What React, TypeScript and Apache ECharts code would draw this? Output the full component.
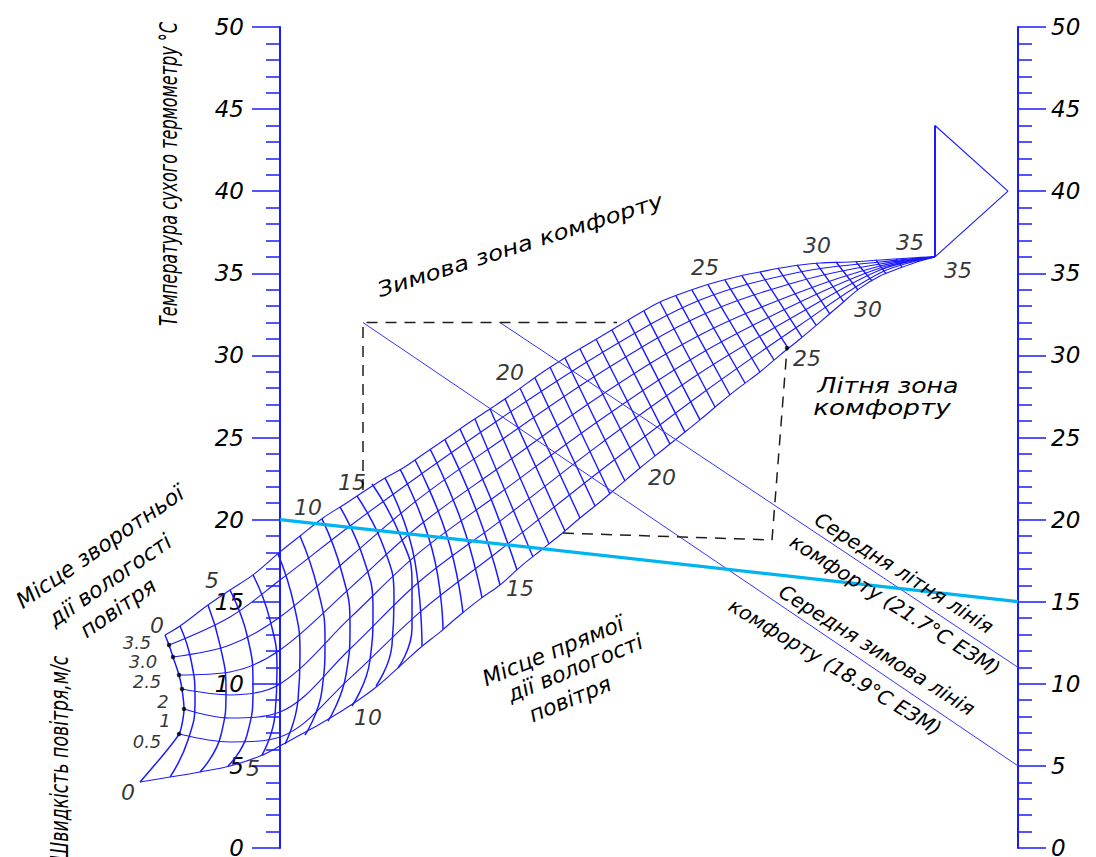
import React, { useEffect, useRef } from 'react';
import * as echarts from 'echarts';

// Horizontal position: drawing units measured from the dry-bulb scale (0) to the wet-bulb scale (738).
// Vertical position: temperature, °C, read against both scales.
const SCALE_SPAN = 738;
const SHEET_LEFT = -280;
const SHEET_RIGHT = 816;
const TEMP_MIN = 0;
const TEMP_MAX = 50;
const TEMP_STEP = 5;

// Air-speed curves of the effective-temperature grid (m/s), upper edge first.
const speedUpper0 = [[-115, 12.97], [-100, 13.52], [-72, 14.8], [-50, 15.71], [-27, 16.63], [0, 18.03], [20, 19.0], [43, 20.1], [65, 20.95], [83, 21.68], [105, 22.53], [123, 23.14], [145, 24.06], [167, 24.97], [190, 25.94], [213, 26.86], [235, 27.77], [260, 28.87], [280, 29.66], [303, 30.51], [320, 31.12], [340, 31.85], [360, 32.58], [380, 33.25], [400, 33.74], [420, 34.17], [440, 34.53], [460, 34.84], [480, 35.08], [500, 35.32], [520, 35.51], [540, 35.63], [570, 35.69], [600, 35.81], [630, 35.93], [655, 36]];
const speed35 = [[-111, 12.36], [-50, 14.07], [0, 16.32], [70, 19.61], [140, 22.72], [220, 26.13], [320, 30.09], [420, 33.37], [520, 35.08], [600, 35.69], [655, 36]];
const speed30 = [[-107, 11.63], [-50, 12.36], [0, 14.07], [70, 17.72], [140, 21.32], [220, 24.79], [320, 28.93], [420, 32.4], [520, 34.53], [600, 35.57], [655, 36]];
const speed25 = [[-101, 10.54], [-50, 10.72], [0, 12.06], [70, 15.83], [140, 19.67], [220, 23.2], [320, 27.53], [420, 31.24], [520, 33.86], [600, 35.44], [655, 36]];
const speed2 = [[-98, 9.68], [-50, 9.32], [0, 9.99], [70, 14.01], [140, 18.03], [220, 21.62], [320, 26.07], [420, 30.09], [520, 33.25], [600, 35.32], [655, 36]];
const speed1 = [[-96, 8.47], [-50, 7.92], [0, 8.28], [70, 12.12], [140, 16.26], [220, 19.91], [320, 24.6], [420, 28.93], [520, 32.58], [600, 35.2], [655, 36]];
const speed05 = [[-101, 6.94], [-50, 6.46], [0, 6.76], [70, 10.35], [140, 14.37], [220, 18.15], [320, 22.96], [420, 27.59], [520, 31.85], [600, 35.02], [655, 36]];
const speedLower0 = [[-140, 4.02], [-110, 4.32], [-80, 4.63], [-50, 4.99], [-20, 5.6], [0, 6.21], [20, 6.88], [40, 7.55], [60, 8.28], [80, 9.07], [100, 9.99], [120, 11.08], [140, 12.18], [160, 13.15], [180, 14.19], [200, 15.16], [220, 16.02], [240, 17.11], [260, 18.09], [280, 19.06], [300, 20.1], [320, 21.07], [340, 22.11], [360, 23.14], [380, 24.12], [400, 25.09], [420, 26.07], [440, 27.1], [460, 28.08], [480, 28.99], [500, 30.02], [520, 31.0], [540, 32.03], [560, 33.07], [580, 34.1], [600, 34.84], [620, 35.32], [640, 35.75], [655, 36]];

// Left edge of the grid, through the start of every speed curve.
const gridLeftEdge = [[-115, 12.97], [-111, 12.36], [-107, 11.63], [-101, 10.54], [-98, 9.68], [-96, 8.47], [-101, 6.94], [-140, 4.02]];
const speedStarts = [[-111, 12.36], [-107, 11.63], [-101, 10.54], [-98, 9.68], [-96, 8.47], [-101, 6.94]];

// Effective-temperature lines crossing the grid (upper edge to lower edge).
const etArcs = [
  [[-100, 13.52], [-89, 11.45], [-85, 9.01], [-92, 6.58], [-110, 4.32]],
  [[-72, 14.8], [-60, 12.36], [-54, 9.62], [-59, 6.88], [-80, 4.63]],
  [[-50, 15.71], [-33, 12.97], [-27, 9.81], [-33, 6.88], [-52, 4.99]],
  [[-27, 16.63], [-10, 13.89], [-3, 10.84], [-5, 8.1], [-18, 5.66]],
  [[-2, 17.9], [14, 14.8], [20, 11.75], [18, 9.01], [5, 6.33]],
  [[20, 19.0], [38, 15.71], [45, 12.67], [42, 9.62], [25, 6.88]],
  [[42, 20.04], [62, 16.75], [70, 13.58], [66, 10.54], [48, 7.73]],
  [[60, 20.77], [84, 17.54], [93, 14.49], [90, 11.45], [72, 8.65]],
  [[77, 21.44], [104, 18.27], [114, 15.23], [112, 12.36], [96, 9.87]],
  [[92, 22.17], [120, 19.06], [132, 16.14], [132, 13.4], [118, 10.96]],
  [[105, 22.53], [135, 17.42], [142, 12.3]],
  [[120, 23.08], [152, 18.21], [163, 13.34]],
  [[135, 23.63], [167, 19.0], [183, 14.31]],
  [[150, 24.3], [182, 19.79], [202, 15.23]],
  [[165, 24.85], [197, 20.46], [220, 16.02]],
  [[180, 25.52], [211, 21.25], [237, 16.93]],
];
const etStraight = [
  [[195, 26.13], [253, 17.72]], [[210, 26.74], [269, 18.51]], [[225, 27.35], [285, 19.31]],
  [[240, 28.01], [300, 20.1]], [[255, 28.62], [315, 20.83]], [[270, 29.29], [330, 21.56]],
  [[285, 29.84], [345, 22.35]], [[300, 30.39], [360, 23.14]], [[316, 31.0], [375, 23.87]],
  [[332, 31.55], [390, 24.6]], [[348, 32.16], [405, 25.33]], [[364, 32.7], [420, 26.07]],
  [[380, 33.25], [435, 26.86]], [[396, 33.62], [450, 27.59]], [[412, 33.98], [465, 28.32]],
  [[428, 34.29], [480, 28.99]], [[445, 34.59], [494, 29.72]], [[462, 34.84], [508, 30.45]],
  [[480, 35.08], [522, 31.12]], [[498, 35.32], [536, 31.85]], [[517, 35.51], [550, 32.52]],
  [[536, 35.63], [564, 33.25]], [[556, 35.69], [578, 33.98]], [[576, 35.69], [592, 34.53]],
  [[596, 35.81], [606, 34.96]], [[616, 35.87], [622, 35.38]], [[636, 35.93], [638, 35.69]],
];

// Comfort zones and mean comfort lines.
const winterZone = [[83, 21.8], [83, 32], [337, 32]];
const summerZone = [[283, 19.18], [492, 18.76], [507, 30.45]];
const summerMeanLine = [[220, 32], [SCALE_SPAN, 11]];
const winterMeanLine = [[83, 32], [SCALE_SPAN, 5]];
const readingLine = [[0, 20], [SCALE_SPAN, 15]];
const pointer = [[655, 36], [655, 44], [728, 40], [655, 36]];
const summerCorner = [[507, 30.45]];

// Air-speed values marked at the start of the speed curves: [text, position, temperature].
const speedLabels: [string, number, number][] = [
  ['3.5', -143, 12.5], ['3.0', -137, 11.35], ['2.5', -133, 10.11],
  ['2', -117, 8.95], ['1', -115, 7.75], ['0.5', -133, 6.46],
];
// Effective-temperature values along the grid edges: [text, position, temperature].
const etLabels: [string, number, number][] = [
  ['0', -123, 13.58], ['0', -152, 3.41],
  ['5', -68, 16.32], ['5', -27, 4.87],
  ['10', 28, 20.71], ['15', 72, 22.23], ['20', 230, 28.93], ['25', 425, 35.38],
  ['30', 537, 36.72], ['35', 630, 36.85], ['35', 678, 35.2], ['30', 588, 32.77],
  ['25', 527, 29.84], ['20', 382, 22.59], ['15', 240, 15.83], ['10', 88, 7.92],
];

const BLUE = '#1a1aff';
const TEXT = '#000000';
const FONT = "'DejaVu Sans', sans-serif";

type Note = { text: string; x: number; y: number; rot: number; size: number; sx?: number };
const notes: Note[] = [
  { text: 'Температура сухого термометру °С', x: 169, y: 174, rot: Math.PI / 2, size: 24, sx: 0.67 },
  { text: 'Швидкість повітря,м/с', x: 60, y: 758, rot: Math.PI / 2, size: 24, sx: 0.72 },
  { text: 'Зимова зона комфорту', x: 520, y: 245, rot: 0.307, size: 21, sx: 1.17 },
  { text: 'Літня зона', x: 888, y: 385, rot: 0, size: 21, sx: 1.2 },
  { text: 'комфорту', x: 882, y: 408, rot: 0, size: 21, sx: 1.25 },
  { text: 'Місце зворотньої', x: 100, y: 547, rot: 0.604, size: 22 },
  { text: 'дії вологості', x: 110, y: 580, rot: 0.604, size: 22 },
  { text: 'повітря', x: 118, y: 608, rot: 0.604, size: 22 },
  { text: 'Місце прямої', x: 553, y: 651, rot: 0.39, size: 22 },
  { text: 'дії вологості', x: 575, y: 668, rot: 0.39, size: 22 },
  { text: 'повітря', x: 570, y: 699, rot: 0.39, size: 22 },
  { text: 'Середня літня лінія', x: 904, y: 573, rot: -0.567, size: 20 },
  { text: 'комфорту (21.7°С ЕЗМ)', x: 895, y: 605, rot: -0.567, size: 20 },
  { text: 'Середня зимова лінія', x: 877, y: 650, rot: -0.562, size: 20 },
  { text: 'комфорту (18.9°С ЕЗМ)', x: 835, y: 667, rot: -0.546, size: 20 },
];

function line(data: number[][], opts: { color?: string; width?: number; smooth?: number | boolean; type?: any; z?: number } = {}) {
  return {
    type: 'line',
    data,
    symbol: 'none',
    silent: true,
    clip: false,
    smooth: opts.smooth ?? false,
    z: opts.z ?? 2,
    lineStyle: { color: opts.color ?? BLUE, width: opts.width ?? 1, type: opts.type ?? 'solid' },
  };
}

function labelSeries(items: [string, number, number][], fontSize: number) {
  return {
    type: 'scatter',
    data: items.map(([name, x, y]) => ({ name, value: [x, y] })),
    symbolSize: 1,
    itemStyle: { color: 'transparent' },
    silent: true,
    clip: false,
    z: 6,
    label: {
      show: true,
      position: 'inside',
      formatter: '{b}',
      color: TEXT,
      fontSize,
      fontStyle: 'italic',
      fontWeight: 200,
      fontFamily: FONT,
    },
  };
}

// Temperature scales sit at sheet positions 0 and SCALE_SPAN inside a full-width grid.
function tempAxis(position: 'left' | 'right') {
  return {
    type: 'value',
    position,
    offset: position === 'left' ? SHEET_LEFT : SCALE_SPAN - SHEET_RIGHT,
    min: TEMP_MIN,
    max: TEMP_MAX,
    interval: TEMP_STEP,
    axisLine: { show: true, onZero: false, lineStyle: { color: BLUE, width: 2 } },
    axisTick: { show: true, inside: false, length: 28, lineStyle: { color: BLUE, width: 1.5 } },
    minorTick: { show: true, splitNumber: 5, length: 14, lineStyle: { color: BLUE, width: 1.5 } },
    splitLine: { show: false },
    minorSplitLine: { show: false },
    axisLabel: {
      margin: position === 'left' ? 36 : 33,
      color: TEXT,
      fontSize: 23,
      fontStyle: 'italic',
      fontWeight: 200,
      fontFamily: FONT,
    },
  };
}

export default function App() {
  const ref = useRef<HTMLDivElement>(null);

  useEffect(() => {
    if (!ref.current) return;
    const chart = echarts.init(ref.current, undefined, { renderer: 'svg' });

    const series: any[] = [];
    [speedUpper0, speed35, speed30, speed25, speed2, speed1, speed05, speedLower0].forEach((c) =>
      series.push(line(c, { smooth: 0.35, width: 1.1 }))
    );
    series.push(line(gridLeftEdge, { width: 1.5, smooth: 0.2 }));
    etArcs.forEach((c) => series.push(line(c, { width: 1.5, smooth: 0.5 })));
    etStraight.forEach((c) => series.push(line(c, { width: 1.4 })));

    series.push(line(winterMeanLine, { width: 1, color: '#3434ff', z: 3 }));
    series.push(line(summerMeanLine, { width: 1, color: '#3434ff', z: 3 }));
    series.push(line(winterZone, { width: 1.5, color: '#1e1e1e', type: [11, 8], z: 3 }));
    series.push(line(summerZone, { width: 1.5, color: '#1e1e1e', type: [11, 8], z: 3 }));
    series.push(line(readingLine, { width: 3.2, color: '#00b4f0', z: 4 }));
    series.push(line(pointer.slice(0, 2), { width: 2, z: 3 }));
    series.push(line(pointer.slice(1), { width: 1.1, z: 3 }));

    series.push({
      type: 'scatter',
      data: [...speedStarts, ...summerCorner],
      symbol: 'circle',
      symbolSize: 4.5,
      itemStyle: { color: '#000' },
      silent: true,
      clip: false,
      z: 5,
    });

    series.push(labelSeries(speedLabels, 18));
    series.push(labelSeries(etLabels, 22));

    const graphic = notes.map((n) => ({
      type: 'text',
      x: n.x,
      y: n.y,
      rotation: n.rot,
      scaleX: n.sx ?? 1,
      silent: true,
      z: 100,
      style: {
        text: n.text,
        fill: TEXT,
        fontSize: n.size,
        fontStyle: 'italic',
        fontWeight: 200,
        fontFamily: FONT,
        align: 'center',
        verticalAlign: 'middle',
        textAlign: 'center',
        textVerticalAlign: 'middle',
      },
    }));

    chart.setOption({
      animation: false,
      backgroundColor: '#ffffff',
      grid: { left: 0, right: 0, top: 27, bottom: 9, containLabel: false, outerBoundsMode: 'none' },
      xAxis: { type: 'value', min: SHEET_LEFT, max: SHEET_RIGHT, show: false, axisLine: { onZero: false } },
      yAxis: [tempAxis('left'), tempAxis('right')],
      series,
      graphic,
    });

    return () => chart.dispose();
  }, []);

  return (
    <div
      ref={ref}
      style={{ position: 'absolute', left: 0, top: 0, width: 1096, height: 857, background: '#fff' }}
    />
  );
}
